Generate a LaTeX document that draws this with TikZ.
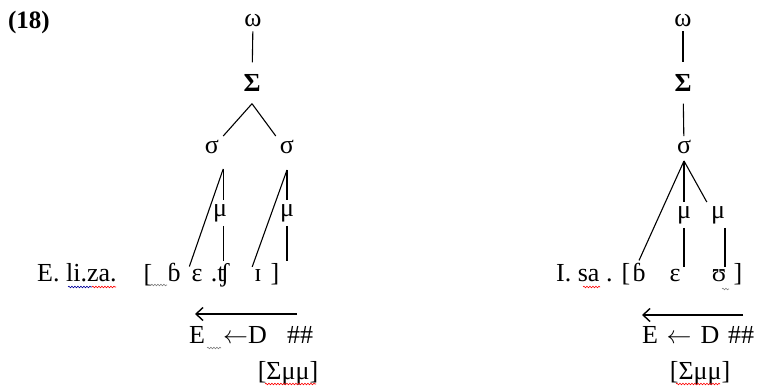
\documentclass[tikz,border=0pt]{standalone}
\usepackage{fontspec}
\setmainfont{Liberation Serif}
\usetikzlibrary{arrows.meta,decorations.pathmorphing}

\begin{document}
\begin{tikzpicture}[
x=1pt,y=-1pt,
every node/.style={font=\fontsize{26}{30}\selectfont},
tn/.style={inner sep=4pt},
foot/.style={inner xsep=4pt,inner ysep=12pt,font=\fontsize{26}{30}\selectfont\bfseries},
seg/.style={inner sep=2pt,anchor=base},
link/.style={line width=1.1pt},
arrow/.style={-{Straight Barb[length=7pt,width=13pt]},line width=1.4pt},
squig/.style={decorate,decoration={snake,amplitude=0.8pt,segment length=3pt},line width=0.6pt}
]
\useasboundingbox (0,0) rectangle (763,390);

\node[font=\fontsize{25}{30}\selectfont\bfseries] (num) at (29,22) {(18)};

% left tree: E. li.za.
\node[tn] (wL) at (253,21) {ω};
\node[foot] (SL) at (252,83) {Σ};
\node[tn] (sL1) at (212,147) {σ};
\node[tn] (sL2) at (287,147) {σ};
\node[tn] (mL1) at (220,213) {μ};
\node[tn] (mL2) at (287,213) {μ};

\node[seg,anchor=base west] (wordL) at (35,281) {E. li.za.};
\node[seg] (lbL) at (148,282) {[};
\node[seg] (bL) at (174,281) {ɓ};
\node[seg] (eL) at (197,281) {ɛ};
\node[seg] (chL) at (220,281) {.ʧ};
\node[seg] (iL) at (258,281) {ɪ};
\node[seg] (rbL) at (275,281) {]};

\coordinate (sL1b) at ([yshift=-11pt]sL1.south east);
\coordinate (sL2b) at ([yshift=-12pt]sL2.south);

\draw[link] (wL) -- (SL);
\draw[link] (SL.south) -- (sL1.north east);
\draw[link] (SL.south) -- (sL2.north west);
\draw[link] (sL1b) -- (eL.north west);
\draw[link] (sL1b) -- (sL1b |- mL1.north);
\draw[link] (sL1b |- mL1.south) -- (sL1b |- chL.north);
\draw[link] (sL2b) -- (iL.north west);
\draw[link] (sL2b) -- (sL2b |- mL2.north);
\draw[link] (sL2b |- mL2.south) -- (sL2b |- rbL.north);

\coordinate (aLs) at (297,314);
\coordinate (aLe) at (195,314);
\draw[arrow] (aLs) -- (aLe);

\node[seg] (ruleLE) at (197,343) {E};
\node[seg] (ruleLD) at (245,343) {$\leftarrow$D};
\node[seg] (ruleLh) at (300,343) {\#\#};
\node[seg] (footL) at (288,379) {[Σμμ]};

% right tree: I. sa .
\node[tn] (wR) at (683,21) {ω};
\node[foot] (SR) at (683,83) {Σ};
\node[tn] (sR) at (684,147) {σ};
\node[tn] (mR1) at (684,215) {μ};
\node[tn] (mR2) at (718,215) {μ};

\node[seg,anchor=base west] (wordR) at (554,281) {I. sa .};
\node[seg] (lbR) at (626,281) {[};
\node[seg] (bR) at (639,281) {ɓ};
\node[seg] (eR) at (675,281) {ɛ};
\node[seg] (uR) at (719,281) {ʊ};
\node[seg] (rbR) at (738,281) {]};

\coordinate (sRb) at ([yshift=-3pt]sR.south);

\draw[link] (wR) -- (SR);
\draw[link] (SR) -- (sR);
\draw[link] (sRb) -- (bR.north);
\draw[link] (sRb) -- (mR1.north);
\draw[link] (sRb) -- (mR2.north west);
\draw[link] (mR1.south) -- (mR1.south |- eR.north);
\draw[link] ([xshift=7pt]mR2.south) -- ([xshift=7pt]mR2.south |- uR.north);

\coordinate (aRs) at (743,315);
\coordinate (aRe) at (642,315);
\draw[arrow] (aRs) -- (aRe);

\node[seg] (ruleRE) at (650,343) {E};
\node[seg] (ruleRa) at (679,343) {$\leftarrow$};
\node[seg] (ruleRD) at (710,343) {D};
\node[seg] (ruleRh) at (741,343) {\#\#};
\node[seg] (footR) at (700,379) {[Σμμ]};

% spelling marks
\draw[squig,blue!60!black] (68,287) -- (92,287);
\draw[squig,red] (92,287) -- (116,287);
\draw[squig,gray] (151,285) -- (167,285);
\draw[squig,red] (583,287) -- (600,287);
\draw[squig,gray] (722,289) -- (729,289);
\draw[squig,gray] (207,348) -- (221,348);
\draw[squig,red] (265,384) -- (316,384);
\draw[squig,red] (676,384) -- (720,384);

\end{tikzpicture}
\end{document}
